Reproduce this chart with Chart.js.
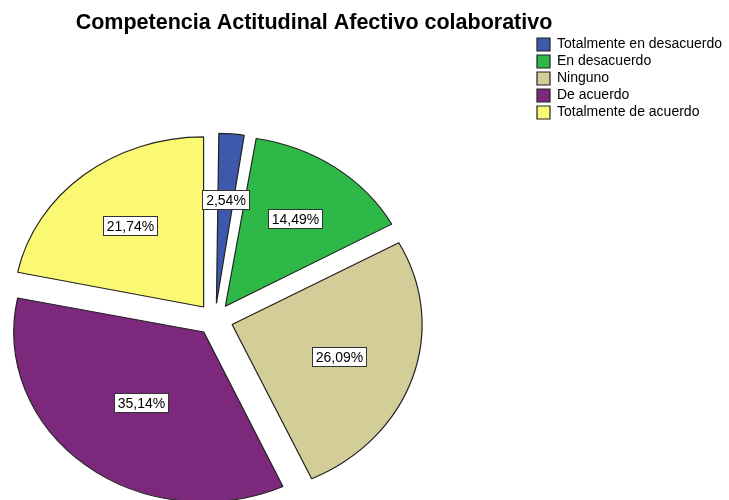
<!DOCTYPE html>
<html lang="es">
<head>
<meta charset="UTF-8">
<title>Competencia Actitudinal Afectivo colaborativo</title>
<script src="https://cdn.jsdelivr.net/npm/chart.js@4.4.0/dist/chart.umd.min.js"></script>
<style>
    html, body { margin: 0; padding: 0; background: #fff; }
    body { width: 729px; height: 500px; overflow: hidden; position: relative; }
    /* canvas is wider/taller than the window: pie sits left, bottom gets cut like the original */
    #chart { position: absolute; left: -104px; top: 0; }
</style>
</head>
<body>
<canvas id="chart" width="836" height="599"></canvas>
<script>
const categories = ['Totalmente en desacuerdo', 'En desacuerdo', 'Ninguno', 'De acuerdo', 'Totalmente de acuerdo'];
const percentages = [2.54, 14.49, 26.09, 35.14, 21.74];
const sliceColors = ['#3e58ac', '#2eb848', '#d3ce97', '#7c287d', '#fbf873'];

const FONT = '"Liberation Sans", Arial, sans-serif';
const SQUASH = 170 / 190;   // original pie is a bit flatter than a circle
const EXPLODE = 72;         // chart.js moves each slice offset/4 px

function pctLabel(v) {
    return v.toFixed(2).replace('.', ',') + '%';
}

const ellipsePie = {
    id: 'ellipsePie',
    afterDatasetUpdate(chart, args) {
        // chart.js grows narrow slices when offset is used, take that back
        const off = EXPLODE / 4;
        args.meta.data.forEach(arc => {
            const fix = 1 - Math.sin(Math.min(Math.PI, arc.circumference));
            arc.outerRadius -= off * fix;
        });
    },
    beforeDatasetsDraw(chart) {
        const arc = chart.getDatasetMeta(0).data[0];
        const ctx = chart.ctx;
        ctx.save();
        ctx.translate(arc.x, arc.y);
        ctx.scale(1, SQUASH);
        ctx.translate(-arc.x, -arc.y);
    },
    afterDatasetsDraw(chart) {
        const ctx = chart.ctx;
        ctx.restore();

        // percentage boxes at each slice's centroid
        const meta = chart.getDatasetMeta(0);
        ctx.save();
        ctx.font = '14px ' + FONT;
        ctx.textAlign = 'center';
        ctx.textBaseline = 'middle';
        meta.data.forEach((arc, i) => {
            const mid = (arc.startAngle + arc.endAngle) / 2;
            const half = (arc.endAngle - arc.startAngle) / 2;
            const centroid = (2 / 3) * arc.outerRadius * Math.sin(half) / half;
            const dist = EXPLODE / 4 + centroid;
            const x = arc.x + Math.cos(mid) * dist;
            const y = arc.y + Math.sin(mid) * dist * SQUASH;
            const text = pctLabel(percentages[i]);
            const w = Math.round(ctx.measureText(text).width + 7);
            const h = 19;
            const bx = Math.round(x - w / 2) + 0.5;
            const by = Math.round(y - h / 2) + 0.5;
            ctx.fillStyle = '#fff';
            ctx.fillRect(bx, by, w, h);
            ctx.strokeStyle = '#333';
            ctx.lineWidth = 1;
            ctx.strokeRect(bx, by, w, h);
            ctx.fillStyle = '#000';
            ctx.fillText(text, bx + w / 2, by + h / 2 + 1);
        });
        ctx.restore();
    }
};

new Chart(document.getElementById('chart'), {
    type: 'pie',
    data: {
        labels: categories,
        datasets: [{
            data: percentages,
            backgroundColor: sliceColors,
            borderColor: '#222',
            borderWidth: 1.2,
            offset: EXPLODE,
            radius: 190
        }]
    },
    options: {
        responsive: false,
        animation: false,
        events: [],
        layout: { padding: 0 },
        plugins: {
            title: {
                display: true,
                text: 'Competencia Actitudinal Afectivo colaborativo',
                color: '#000',
                font: { family: FONT, size: 21.5, weight: 'bold' },
                padding: { top: 10, bottom: 4 }
            },
            legend: {
                position: 'right',
                align: 'start',
                fullSize: true,
                // empty title only pushes the entries below the chart title
                title: { display: true, text: '', font: { size: 10 }, padding: { top: 22.5, bottom: 0 } },
                labels: {
                    color: '#000',
                    font: { family: FONT, size: 14 },
                    boxWidth: 13,
                    boxHeight: 13,
                    padding: 3
                }
            },
            tooltip: { enabled: false }
        }
    },
    plugins: [ellipsePie]
});
</script>
</body>
</html>
